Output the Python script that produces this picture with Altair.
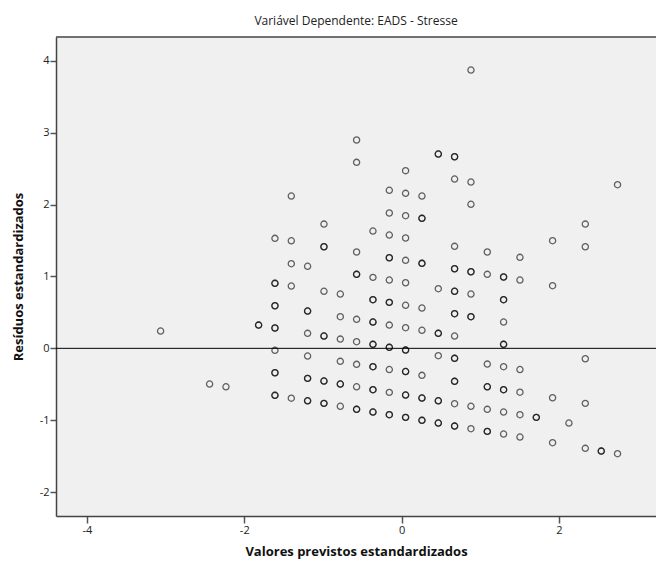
import altair as alt
import pandas as pd

# Standardized predicted values (x), standardized residuals (y), number of cases at that point
pred = [-3.064, -2.441, -2.233, -1.818,
        -1.610, -1.610, -1.610, -1.610, -1.610, -1.610, -1.610,
        -1.402, -1.402, -1.402, -1.402, -1.402,
        -1.195, -1.195, -1.195, -1.195, -1.195, -1.195,
        -0.987, -0.987, -0.987, -0.987, -0.987, -0.987,
        -0.779, -0.779, -0.779, -0.779, -0.779, -0.779,
        -0.572, -0.572, -0.572, -0.572, -0.572, -0.572, -0.572, -0.572, -0.572,
        -0.364, -0.364, -0.364, -0.364, -0.364, -0.364, -0.364, -0.364,
        -0.156, -0.156, -0.156, -0.156, -0.156, -0.156, -0.156, -0.156, -0.156, -0.156, -0.156,
        0.051, 0.051, 0.051, 0.051, 0.051, 0.051, 0.051, 0.051, 0.051, 0.051, 0.051, 0.051,
        0.259, 0.259, 0.259, 0.259, 0.259, 0.259, 0.259, 0.259,
        0.467, 0.467, 0.467, 0.467, 0.467, 0.467,
        0.674, 0.674, 0.674, 0.674, 0.674, 0.674, 0.674, 0.674, 0.674, 0.674, 0.674,
        0.882, 0.882, 0.882, 0.882, 0.882, 0.882, 0.882, 0.882,
        1.090, 1.090, 1.090, 1.090, 1.090, 1.090,
        1.297, 1.297, 1.297, 1.297, 1.297, 1.297, 1.297, 1.297,
        1.505, 1.505, 1.505, 1.505, 1.505, 1.505,
        1.713,
        1.920, 1.920, 1.920, 1.920,
        2.128,
        2.336, 2.336, 2.336, 2.336, 2.336,
        2.539,
        2.746, 2.746]

resid = [0.241, -0.497, -0.535, 0.324,
         1.531, 0.905, 0.593, 0.283, -0.028, -0.340, -0.654,
         2.120, 1.497, 1.178, 0.867, -0.694,
         1.142, 0.519, 0.209, -0.107, -0.418, -0.730,
         1.730, 1.414, 0.794, 0.171, -0.455, -0.766,
         0.756, 0.440, 0.129, -0.181, -0.497, -0.807,
         2.900, 2.589, 1.341, 1.030, 0.404, 0.092, -0.223, -0.535, -0.849,
         1.633, 0.988, 0.677, 0.366, 0.056, -0.256, -0.576, -0.887,
         2.200, 1.884, 1.577, 1.261, 0.951, 0.640, 0.324, 0.014, -0.295, -0.613, -0.924,
         2.473, 2.158, 1.846, 1.536, 1.225, 0.913, 0.599, 0.287, -0.024, -0.323, -0.650, -0.961,
         2.120, 1.810, 1.183, 0.561, 0.251, -0.376, -0.692, -1.002,
         2.705, 0.830, 0.209, -0.103, -0.730, -1.040,
         2.667, 2.357, 1.420, 1.108, 0.794, 0.482, 0.171, -0.139, -0.459, -0.771, -1.082,
         3.874, 2.315, 2.005, 1.066, 0.756, 0.440, -0.807, -1.119,
         1.341, 1.030, -0.219, -0.535, -0.849, -1.156,
         0.993, 0.677, 0.366, 0.056, -0.256, -0.576, -0.887, -1.193,
         1.267, 0.951, -0.295, -0.611, -0.924, -1.235,
         -0.961,
         1.498, 0.872, -0.688, -1.314,
         -1.040,
         1.730, 1.414, -0.145, -0.766, -1.392,
         -1.430,
         2.278, -1.467]

cases = [1, 1, 1, 2,
         1, 2, 2, 2, 1, 2, 2,
         1, 1, 1, 1, 1,
         1, 2, 1, 1, 2, 2,
         1, 2, 1, 2, 2, 2,
         1, 1, 1, 1, 2, 1,
         1, 1, 1, 2, 1, 1, 1, 1, 2,
         1, 1, 2, 2, 2, 2, 2, 2,
         1, 1, 1, 2, 1, 2, 1, 2, 1, 1, 2,
         1, 1, 1, 1, 1, 1, 1, 1, 2, 2, 2, 2,
         1, 2, 2, 1, 1, 1, 2, 2,
         2, 1, 2, 1, 2, 2,
         2, 1, 1, 2, 2, 2, 1, 2, 2, 1, 2,
         1, 1, 1, 2, 1, 2, 1, 1,
         1, 1, 1, 2, 1, 2,
         2, 2, 1, 2, 1, 2, 1, 1,
         1, 1, 1, 1, 1, 1,
         2,
         1, 1, 1, 1,
         1,
         1, 1, 1, 1, 1,
         2,
         1, 1]

x_ticks = [-4, -2, 0, 2]
y_ticks = [-2, -1, 0, 1, 2, 3, 4]

rows = []
for px, ry, n in zip(pred, resid, cases):
    for _ in range(n):
        rows.append({"pred": px, "resid": ry})
df = pd.DataFrame(rows)

FONT = "Open Sans"
W, H = 600, 479

xscale = alt.Scale(domain=[-4.394, 3.235], nice=False, zero=False)
yscale = alt.Scale(domain=[-2.334, 4.334], nice=False, zero=False)

LABEL = "'' + datum.value"

points = alt.Chart(df).mark_point(
    shape="circle", filled=False, size=38, strokeWidth=1.3,
    color="black", opacity=0.6
).encode(
    x=alt.X("pred:Q", scale=xscale,
            axis=alt.Axis(values=x_ticks, title="Valores previstos estandardizados",
                          labelExpr=LABEL,
                          grid=False, tickSize=7, tickWidth=1.5, tickColor="#555",
                          domainColor="#444", domainWidth=1.5,
                          labelPadding=1, labelFontSize=11, labelColor="#222",
                          labelFont=FONT, titleFont=FONT, titleFontSize=13,
                          titleFontWeight="bold", titleColor="#111", titlePadding=10)),
    y=alt.Y("resid:Q", scale=yscale,
            axis=alt.Axis(values=y_ticks, title="Resíduos estandardizados",
                          labelExpr=LABEL,
                          grid=False, tickSize=6, tickWidth=1.5, tickColor="#555",
                          domainColor="#444", domainWidth=1.5,
                          labelPadding=1, labelFontSize=11, labelColor="#222",
                          labelFont=FONT, titleFont=FONT, titleFontSize=13,
                          titleFontWeight="bold", titleColor="#111", titlePadding=14)),
)

zero_df = pd.DataFrame({"resid": [0]})
zero_line = alt.Chart(zero_df).mark_rule(color="black", strokeWidth=1).encode(
    y=alt.Y("resid:Q", scale=yscale)
)

top_border = alt.Chart(zero_df).mark_rule(color="#444", strokeWidth=1.5).encode(
    x=alt.value(0), x2=alt.value(W), y=alt.value(0)
)

chart = alt.layer(zero_line, points, top_border).properties(
    width=W, height=H,
    title=alt.TitleParams("Variável Dependente: EADS - Stresse", font=FONT,
                          fontSize=12, fontWeight="normal", color="#222",
                          anchor="middle", offset=8),
    autosize=alt.AutoSizeParams(type="none"),
    padding={"left": 56, "top": 37, "right": 0, "bottom": 47},
    background="white",
).configure_view(
    stroke=None, fill="#F0F0F0"
)

chart.save("out.html", embed_options={"renderer": "svg", "actions": False})
